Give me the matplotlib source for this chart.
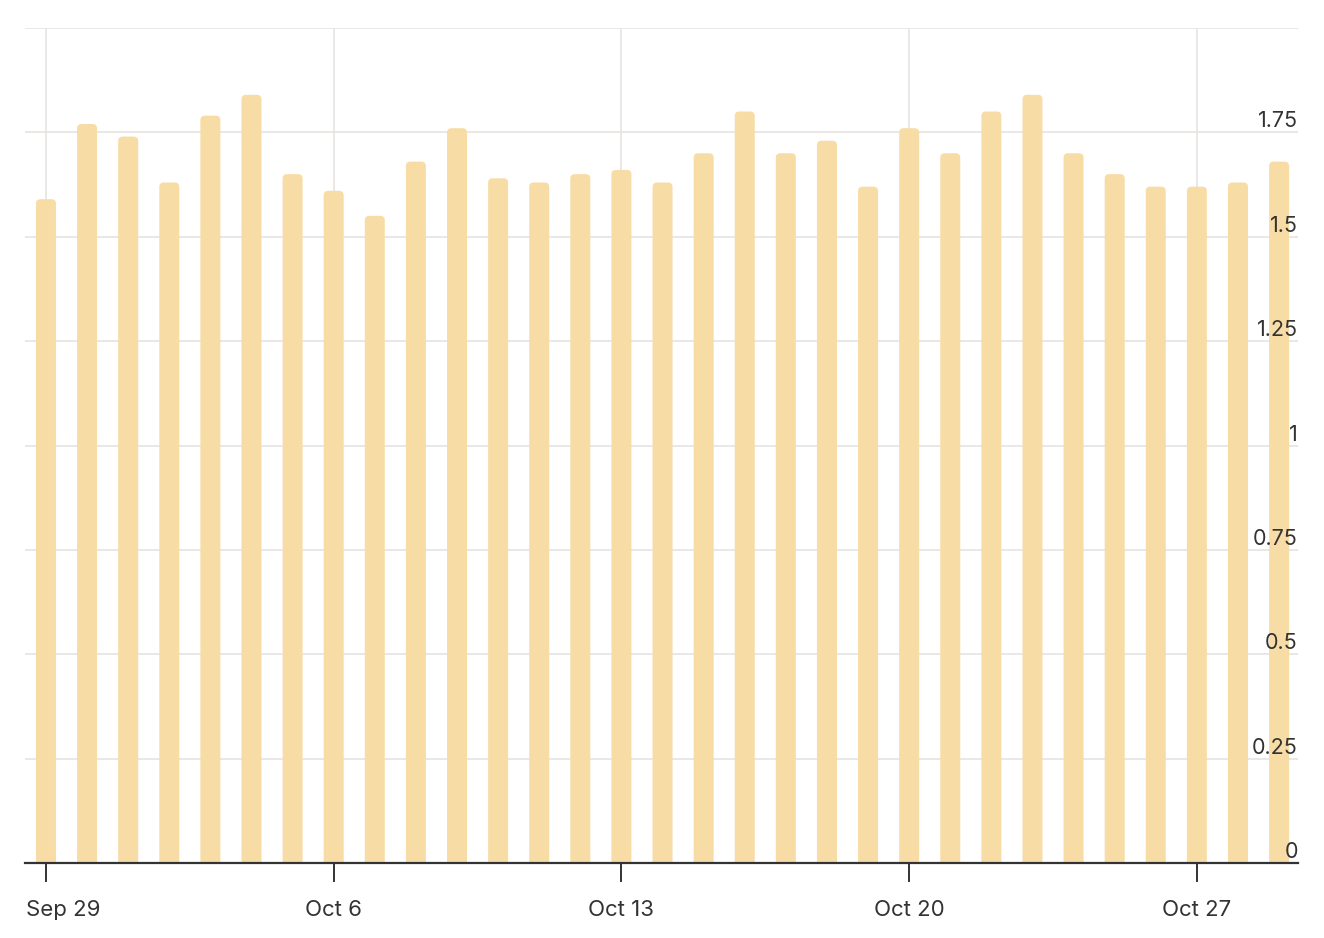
import numpy as np
import matplotlib.pyplot as plt
import matplotlib.dates as mdates
from matplotlib.patches import FancyBboxPatch
from matplotlib.transforms import blended_transform_factory, ScaledTranslation
import datetime as dt

plt.rcParams['font.family'] = ['Inter', 'DejaVu Sans']

start = dt.date(2024, 9, 29)
days = [start + dt.timedelta(days=i) for i in range(31)]
values = [1.59, 1.77, 1.74, 1.63, 1.79, 1.84, 1.65, 1.61, 1.55, 1.68,
          1.76, 1.64, 1.63, 1.65, 1.66, 1.63, 1.70, 1.80, 1.70, 1.73,
          1.62, 1.76, 1.70, 1.80, 1.84, 1.70, 1.65, 1.62, 1.62, 1.63, 1.68]
yticks = [0, 0.25, 0.5, 0.75, 1, 1.25, 1.5, 1.75]
ytick_labels = ['0', '0.25', '0.5', '0.75', '1', '1.25', '1.5', '1.75']
xtick_days = [dt.date(2024, 9, 29), dt.date(2024, 10, 6), dt.date(2024, 10, 13),
              dt.date(2024, 10, 20), dt.date(2024, 10, 27)]

bar_color = '#F8DCA6'
grid_color = '#E7E3E0'
text_color = '#333333'

fig = plt.figure(figsize=(13.24, 9.38), dpi=100)
ax = fig.add_axes([25/1324, 75/938, 1273/1324, 835/938])

x = mdates.date2num(days)
xmin, xmax = x[0] - 0.51, x[-1] + 0.46
ax.set_xlim(xmin, xmax)
ax.set_ylim(0, 2.0)

# px -> data scale for rounded corners
px_x = (xmax - xmin) / 1273
px_y = 2.0 / 835
width = 20 * px_x
r = 4.5 * px_x
for xi, v in zip(x, values):
    bottom = -0.05
    p = FancyBboxPatch((xi - width / 2, bottom), width, v - bottom,
                       boxstyle=f'round,pad=0,rounding_size={r}',
                       mutation_aspect=px_y / px_x,
                       facecolor=bar_color, edgecolor='none', zorder=2)
    ax.add_patch(p)

# grid
for yv in yticks + [2.0]:
    ax.axhline(yv, color=grid_color, lw=1.2, zorder=0)
for d in xtick_days:
    ax.axvline(mdates.date2num(d), color=grid_color, lw=1.2, zorder=0)

for s in ['top', 'right', 'left']:
    ax.spines[s].set_visible(False)
ax.spines['bottom'].set_color(text_color)
ax.spines['bottom'].set_linewidth(1.6)
ax.spines['bottom'].set_zorder(3)

ax.set_yticks([])
ax.set_xticks(mdates.date2num(xtick_days))
ax.set_xticklabels([d.strftime('%b ') + str(d.day) for d in xtick_days])
ax.tick_params(axis='x', length=14, width=1.4, color=text_color, pad=12.5,
               labelsize=16, labelcolor=text_color)
# keep the first label inside the figure
first = ax.get_xticklabels()[0]
first.set_horizontalalignment('left')
first.set_transform(first.get_transform() + ScaledTranslation(-20 / 100, 0, fig.dpi_scale_trans))

trans = blended_transform_factory(ax.transAxes, ax.transData)
off = ScaledTranslation(0, 5 / 100, fig.dpi_scale_trans)
for yv, lab in zip(yticks, ytick_labels):
    ax.text(1.0, yv, lab, transform=trans + off, ha='right', va='baseline',
            fontsize=15.5, color=text_color, zorder=4)

fig.savefig('out.png', dpi=100)
